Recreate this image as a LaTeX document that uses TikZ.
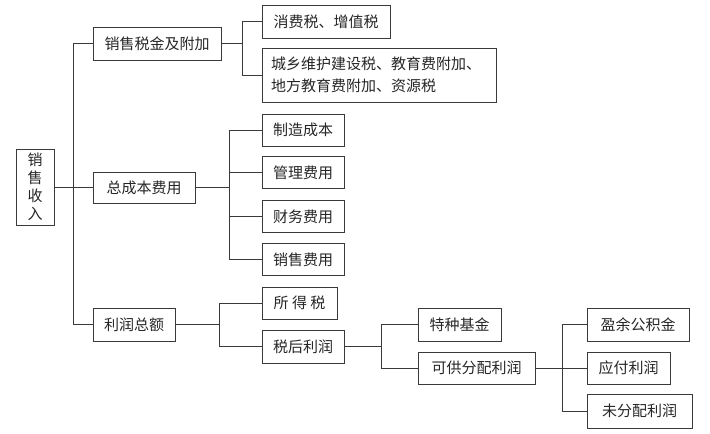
\documentclass[tikz,border=0pt]{standalone}
\usepackage{fontspec}
\setmainfont{Noto Sans CJK SC}
\usepackage{tikz}
\usetikzlibrary{positioning}
\usepackage{xcolor}
\definecolor{linegray}{HTML}{3A3A3A}

\begin{document}
\begin{tikzpicture}[x=1pt,y=-1pt]
\tikzstyle{box}=[draw=linegray,line width=1pt,inner sep=2pt,minimum height=32pt,align=center,font=\fontsize{15}{18}\selectfont,text=black!85]
\tikzstyle{link}=[draw=linegray,line width=1pt]
\useasboundingbox (0,0) rectangle (710,434);
% root
\node[box,minimum width=38pt,minimum height=76pt] (income) at (35,187) {销\\售\\收\\入};
% first level
\node[box,minimum width=128pt,minimum height=33pt] (salestax) at (157,43.5) {销售税金及附加};
\node[box,minimum width=102pt,minimum height=31pt] (totalcost) at (144,187.5) {总成本费用};
\node[box,minimum width=82pt,minimum height=33pt] (profit) at (134,324.5) {利润总额};
% taxes
\node[box,text width=216pt,minimum height=54pt,inner xsep=9pt,align=left,font=\fontsize{15}{22}\selectfont] (citytax) at (379,75) {城乡维护建设税、教育费附加、\\地方教育费附加、资源税};
\node[box,minimum width=128pt,minimum height=33pt] (vat) at (326,21.5) {消费税、增值税};
% costs
\node[box,minimum width=82pt] (mfg) at (303,130) {制造成本};
\node[box,minimum width=82pt] (admin) at (303,172.5) {管理费用};
\node[box,minimum width=82pt] (finance) at (303,216.5) {财务费用};
\node[box,minimum width=82pt] (selling) at (303,259.5) {销售费用};
% profit
\node[box,minimum width=75pt] (incometax) at (299.5,303) {所 得 税};
\node[box,minimum width=82pt,minimum height=33pt] (netprofit) at (303,346.5) {税后利润};
\node[box,minimum width=83pt,minimum height=33pt] (fund) at (459.5,324.5) {特种基金};
\node[box,minimum width=117pt] (distrib) at (476.5,368) {可供分配利润};
\node[box,minimum width=102pt,minimum height=33pt] (reserve) at (638,324.5) {盈余公积金};
\node[box,minimum width=83pt] (payable) at (628.5,368) {应付利润};
\node[box,minimum width=105pt,minimum height=34pt] (retained) at (639.5,411) {未分配利润};
% bracket points
\coordinate (t0) at (73,187);
\coordinate (t1) at (242,43.5);
\coordinate (t2) at (229,187.5);
\coordinate (t3) at (219,324.5);
\coordinate (t4) at (381,346.5);
\coordinate (t5) at (562,368);
% connectors
\draw[link] (income) -- (t0);
\draw[link] (t0) |- (salestax); \draw[link] (t0) |- (totalcost); \draw[link] (t0) |- (profit);
\draw[link] (salestax) -- (t1);
\draw[link] (t1) |- (vat); \draw[link] (t1) |- (citytax);
\draw[link] (totalcost) -- (t2);
\foreach \n in {mfg,admin,finance,selling} \draw[link] (t2) |- (\n);
\draw[link] (profit) -- (t3);
\draw[link] (t3) |- (incometax); \draw[link] (t3) |- (netprofit);
\draw[link] (netprofit) -- (t4);
\draw[link] (t4) |- (fund); \draw[link] (t4) |- (distrib);
\draw[link] (distrib) -- (t5);
\foreach \n in {reserve,payable,retained} \draw[link] (t5) |- (\n);
\end{tikzpicture}
\end{document}
